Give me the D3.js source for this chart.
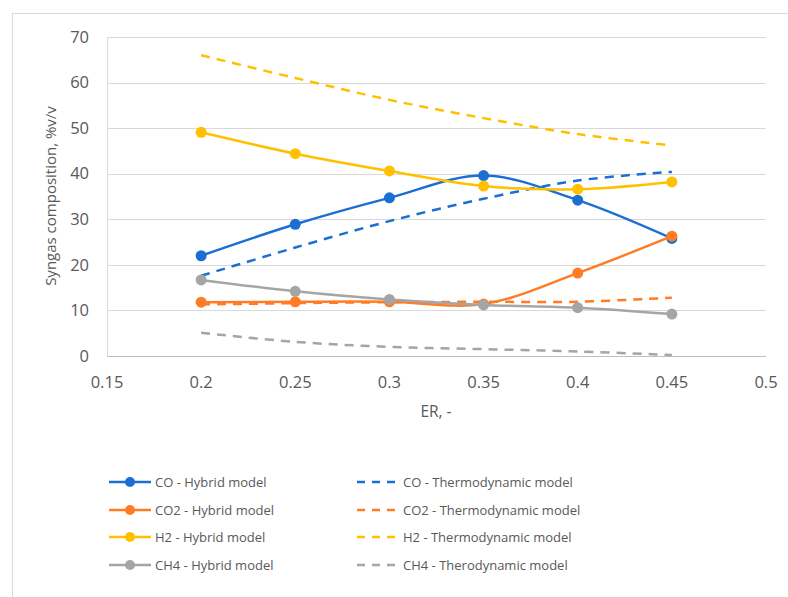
<!DOCTYPE html>
<html>
<head>
<meta charset="utf-8">
<script src="https://cdn.jsdelivr.net/npm/d3@7"></script>
<style>
  body { margin: 0; background: #fff; }
  text { font-family: "Open Sans", "Liberation Sans", sans-serif; fill: #595959; }
</style>
</head>
<body>
<svg id="chart" width="788" height="597"></svg>
<script>
// ER values on the x axis
const erValues = [0.2, 0.25, 0.3, 0.35, 0.4, 0.45];

// Hybrid model (solid, markers)
const coHybrid = [22.0, 28.9, 34.7, 39.6, 34.2, 25.8];
const co2Hybrid = [11.8, 11.9, 11.9, 11.4, 18.2, 26.3];
const h2Hybrid = [49.1, 44.4, 40.6, 37.3, 36.6, 38.2];
const ch4Hybrid = [16.7, 14.2, 12.4, 11.2, 10.6, 9.2];

// Thermodynamic model (dashed)
const coThermo = [17.6, 23.8, 29.6, 34.5, 38.5, 40.4];
const co2Thermo = [11.3, 11.6, 11.8, 11.9, 11.9, 12.8];
const h2Thermo = [66.0, 61.0, 56.2, 52.2, 48.7, 46.2];
const ch4Thermo = [5.1, 3.1, 2.0, 1.5, 1.0, 0.2];

const xTicks = [0.15, 0.2, 0.25, 0.3, 0.35, 0.4, 0.45, 0.5];
const yTicks = [0, 10, 20, 30, 40, 50, 60, 70];

const series = [
  { name: 'CO - Hybrid model', values: coHybrid, color: '#1c6fd2', dashed: false },
  { name: 'CO2 - Hybrid model', values: co2Hybrid, color: '#ff7c25', dashed: false },
  { name: 'H2 - Hybrid model', values: h2Hybrid, color: '#ffc000', dashed: false },
  { name: 'CH4 - Hybrid model', values: ch4Hybrid, color: '#a5a5a5', dashed: false },
  { name: 'CO - Thermodynamic model', values: coThermo, color: '#1c6fd2', dashed: true },
  { name: 'CO2 - Thermodynamic model', values: co2Thermo, color: '#ff7c25', dashed: true },
  { name: 'H2 - Thermodynamic model', values: h2Thermo, color: '#ffc000', dashed: true },
  { name: 'CH4 - Therodynamic model', values: ch4Thermo, color: '#a5a5a5', dashed: true }
];

const svg = d3.select('#chart');

// chart frame
svg.append('rect')
  .attr('x', 12.5).attr('y', 13.5)
  .attr('width', 800).attr('height', 600)
  .attr('fill', 'none')
  .attr('stroke', '#d9d9d9');

const plot = { left: 107, right: 766, top: 37, bottom: 356 };

const x = d3.scaleLinear().domain([0.15, 0.5]).range([plot.left, plot.right]);
const y = d3.scaleLinear().domain([0, 70]).range([plot.bottom, plot.top]);

// gridlines
svg.append('g')
  .selectAll('line')
  .data(yTicks)
  .join('line')
  .attr('x1', plot.left).attr('x2', plot.right)
  .attr('y1', d => Math.round(y(d)) + 0.5).attr('y2', d => Math.round(y(d)) + 0.5)
  .attr('stroke', d => d === 0 ? '#bfbfbf' : '#d9d9d9')
  .attr('stroke-width', 1);

// left axis line
svg.append('line')
  .attr('x1', plot.left + 0.5).attr('x2', plot.left + 0.5)
  .attr('y1', plot.top).attr('y2', plot.bottom)
  .attr('stroke', '#d9d9d9');

// y tick labels
svg.append('g')
  .selectAll('text')
  .data(yTicks)
  .join('text')
  .attr('x', plot.left - 18)
  .attr('y', d => y(d))
  .attr('dy', '0.35em')
  .attr('text-anchor', 'end')
  .attr('font-size', 16.5)
  .text(d => d);

// x tick labels
svg.append('g')
  .selectAll('text')
  .data(xTicks)
  .join('text')
  .attr('x', d => x(d))
  .attr('y', 382)
  .attr('dy', '0.35em')
  .attr('text-anchor', 'middle')
  .attr('font-size', 16.5)
  .text(d => d3.format('')(d));

// axis titles
svg.append('text')
  .attr('x', 436).attr('y', 412)
  .attr('dy', '0.35em')
  .attr('text-anchor', 'middle')
  .attr('font-size', 15.5)
  .text('ER, -');

svg.append('text')
  .attr('transform', 'translate(51,196) rotate(-90)')
  .attr('dy', '0.35em')
  .attr('text-anchor', 'middle')
  .attr('font-size', 15)
  .text('Syngas composition, %v/v');

const line = d3.line()
  .x((d, i) => x(erValues[i]))
  .y(d => y(d))
  .curve(d3.curveCatmullRom.alpha(0.5));

// draw thermodynamic first, then hybrid on top
const drawOrder = series.filter(s => s.dashed).concat(series.filter(s => !s.dashed));

drawOrder.forEach(s => {
  svg.append('path')
    .datum(s.values)
    .attr('d', line)
    .attr('fill', 'none')
    .attr('stroke', s.color)
    .attr('stroke-width', 2.5)
    .attr('stroke-dasharray', s.dashed ? '9,7' : null);

  if (!s.dashed) {
    svg.append('g')
      .selectAll('circle')
      .data(s.values)
      .join('circle')
      .attr('cx', (d, i) => x(erValues[i]))
      .attr('cy', d => y(d))
      .attr('r', 5.5)
      .attr('fill', s.color);
  }
});

// legend
const legendRows = [482, 510, 537, 565];
const legend = svg.append('g');

series.forEach((s, i) => {
  const row = legendRows[i % 4];
  const x0 = s.dashed ? 357 : 109;
  const g = legend.append('g');
  g.append('line')
    .attr('x1', x0).attr('x2', x0 + 42)
    .attr('y1', row).attr('y2', row)
    .attr('stroke', s.color)
    .attr('stroke-width', 2.5)
    .attr('stroke-dasharray', s.dashed ? '8,7' : null);
  if (!s.dashed) {
    g.append('circle')
      .attr('cx', x0 + 21).attr('cy', row)
      .attr('r', 5)
      .attr('fill', s.color);
  }
  g.append('text')
    .attr('x', x0 + 46)
    .attr('y', row)
    .attr('dy', '0.35em')
    .attr('font-size', 13)
    .text(s.name);
});
</script>
</body>
</html>
